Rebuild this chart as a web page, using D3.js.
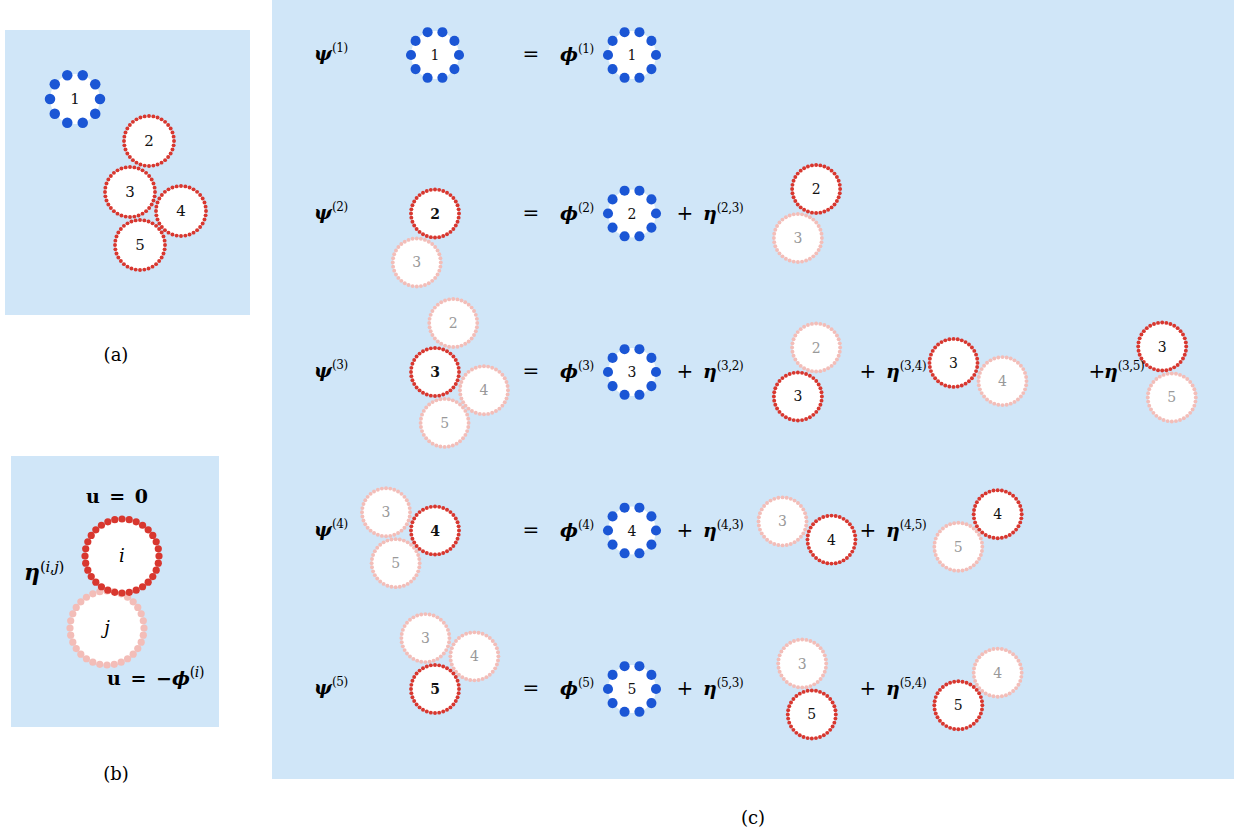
<!DOCTYPE html>
<html>
<head>
<script src="https://d3js.org/d3.v7.min.js"></script>
<style>
  body { margin: 0; background: #fff; }
  svg { display: block; }
</style>
</head>
<body>
<svg id="fig"></svg>
<script>
// particle centres as placed in panel (a)
const particleIds = ["1", "2", "3", "4", "5"];
const particleX = [75, 149, 130, 181, 140];
const particleY = [99, 141, 192, 211, 245];
// contacts of each particle, in the order the eta terms appear
const neighbours = [[], ["3"], ["2", "4", "5"], ["3", "5"], ["3", "4"]];
const captions = ["(a)", "(b)", "(c)"];

const W = 1242, H = 836;
const BG = "#d0e6f8", BLUE = "#1b56d5", RED = "#d8372f", PINK = "#f3bdb8";
const serif = "DejaVu Serif, serif";

const svg = d3.select("#fig").attr("width", W).attr("height", H);

// panels
svg.append("rect").attr("x", 5).attr("y", 30).attr("width", 245).attr("height", 285).attr("fill", BG);
svg.append("rect").attr("x", 11).attr("y", 456).attr("width", 208).attr("height", 271).attr("fill", BG);
svg.append("rect").attr("x", 272).attr("y", 0).attr("width", 962).attr("height", 779).attr("fill", BG);

const capX = [116, 116, 753], capY = [361, 780, 824];
captions.forEach((c, k) => {
  svg.append("text").attr("x", capX[k]).attr("y", capY[k])
    .attr("text-anchor", "middle").attr("font-family", serif).attr("font-size", 18)
    .text(c);
});

const pos = id => {
  const k = particleIds.indexOf(id);
  return [particleX[k], particleY[k]];
};

// ring of dots for one particle
function ring(g, cx, cy, r, kind, big) {
  const n = kind === "phi" ? 10 : (big ? 32 : 36);
  const dotR = kind === "phi" ? r * 0.21 : (big ? 3.6 : 1.95);
  const col = kind === "phi" ? BLUE : (kind === "eta" ? RED : PINK);
  const ang = d3.scaleLinear().domain([0, n]).range([0, 2 * Math.PI]);
  g.selectAll(null).data(d3.range(n)).enter().append("circle")
    .attr("cx", d => cx + r * Math.cos(ang(d)))
    .attr("cy", d => cy + r * Math.sin(ang(d)))
    .attr("r", dotR).attr("fill", col);
}

// group of particles: list of [id, kind, bold], placed with linear scales
function group(g, items, x, y, r, opts = {}) {
  const fills = g.append("g"), dots = g.append("g"), labels = g.append("g");
  items.forEach(([id, kind, bold]) => {
    const [px, py] = pos(id);
    const cx = x(px), cy = y(py);
    fills.append("circle").attr("cx", cx).attr("cy", cy).attr("r", r).attr("fill", "#fff");
    ring(dots, cx, cy, r, kind, opts.big);
    labels.append("text").attr("x", cx).attr("y", cy + 5)
      .attr("text-anchor", "middle").attr("font-family", serif)
      .attr("font-size", opts.fs || 14)
      .attr("font-weight", bold ? "bold" : "normal")
      .attr("fill", kind === "ghost" ? "#999" : "#111")
      .text(id);
  });
}

function placed(cx, cy, ax, ay, k) {
  return [
    d3.scaleLinear().domain([cx, cx + 100]).range([ax, ax + 100 * k]),
    d3.scaleLinear().domain([cy, cy + 100]).range([ay, ay + 100 * k])
  ];
}

// math label: parts = [{t, bi, it, sup, b}]
function math(g, x, y, parts, fs = 19, anchor = "start", supFs = 12) {
  const t = g.append("text").attr("x", x).attr("y", y)
    .attr("font-family", serif).attr("font-size", fs).attr("text-anchor", anchor);
  let up = false;
  parts.forEach(p => {
    const s = t.append("tspan").text(p.t);
    if (p.bi) s.attr("font-weight", "bold").attr("font-style", "italic");
    if (p.b) s.attr("font-weight", "bold");
    if (p.it) s.attr("font-style", "italic");
    if (p.sup) s.attr("font-size", supFs).attr("letter-spacing", -0.4);
    if (p.sup && !up) { s.attr("dy", -8); up = true; }
    else if (!p.sup && up) { s.attr("dy", 8); up = false; }
  });
  return t;
}

// ---- panel (a)
const [ax, ay] = placed(0, 0, 0, 0, 1);
group(svg.append("g"), particleIds.map(id => [id, id === "1" ? "phi" : "eta"]), ax, ay, 25, { fs: 15 });

// ---- panel (b)
{
  const gb = svg.append("g");
  const ci = [122, 556], cj = [107, 628], R = 37;
  const fills = gb.append("g"), dots = gb.append("g");
  [[cj, "ghost"], [ci, "eta"]].forEach(([c, kind]) => {
    fills.append("circle").attr("cx", c[0]).attr("cy", c[1]).attr("r", R).attr("fill", "#fff");
    ring(dots, c[0], c[1], R, kind, true);
  });
  math(gb, ci[0], ci[1] + 6, [{ t: "i", it: true }], 18, "middle");
  math(gb, cj[0], cj[1] + 6, [{ t: "j", it: true }], 18, "middle");
  math(gb, 117, 503, [{ t: "u = 0", b: true }], 19, "middle").attr("word-spacing", 3);
  math(gb, 24, 580, [{ t: "η", bi: true }, { t: "(", sup: true }, { t: "i", sup: true, it: true }, { t: ",", sup: true }, { t: "j", sup: true, it: true }, { t: ")", sup: true }], 22, "start", 15);
  math(gb, 107, 685, [{ t: "u = −", b: true }, { t: "ϕ", bi: true }, { t: "(", sup: true }, { t: "i", sup: true, it: true }, { t: ")", sup: true }], 19, "start", 14).attr("word-spacing", 3);
}

// ---- panel (c)
const rowY = d3.scalePoint().domain(particleIds).range([55, 689]);
const K = 0.96, Rc = 24;
const etaPlusX = [685, 868, 1097], etaLabelX = [703, 886, 1104], etaPicX = [807, 978, 1167];

particleIds.forEach((id, r) => {
  const y0 = rowY(id);
  const g = svg.append("g");
  const [fx, fy] = pos(id);

  math(g, 314, y0 + 5, [{ t: "ψ", bi: true }, { t: "(" + id + ")", sup: true }]);
  math(g, 531, y0 + 6, [{ t: "=" }], 20, "middle");
  math(g, 560, y0 + 6, [{ t: "ϕ", bi: true }, { t: "(" + id + ")", sup: true }]);

  // psi picture: focus particle at fixed column, contacts around it
  const [px, py] = placed(fx, fy, 435, y0, K);
  if (neighbours[r].length === 0) {
    group(g, [[id, "phi"]], px, py, Rc);
  } else {
    group(g, neighbours[r].map(n => [n, "ghost"]).concat([[id, "eta", true]]), px, py, Rc);
  }

  // phi picture
  const [qx, qy] = placed(fx, fy, 632, y0, K);
  group(g, [[id, "phi"]], qx, qy, Rc);

  // eta pictures, pair centred on the row
  neighbours[r].forEach((n, k) => {
    const [nx, ny] = pos(n);
    const mx = (fx + nx) / 2, my = (fy + ny) / 2;
    const [ex, ey] = placed(mx, my, etaPicX[k], y0, K);
    group(g, [[n, "ghost"], [id, "eta"]], ex, ey, Rc);
    math(g, etaPlusX[k], y0 + 6, [{ t: "+" }], 20, "middle");
    math(g, etaLabelX[k], y0 + 6, [{ t: "η", bi: true }, { t: "(" + id + "," + n + ")", sup: true }]);
  });
});
</script>
</body>
</html>
